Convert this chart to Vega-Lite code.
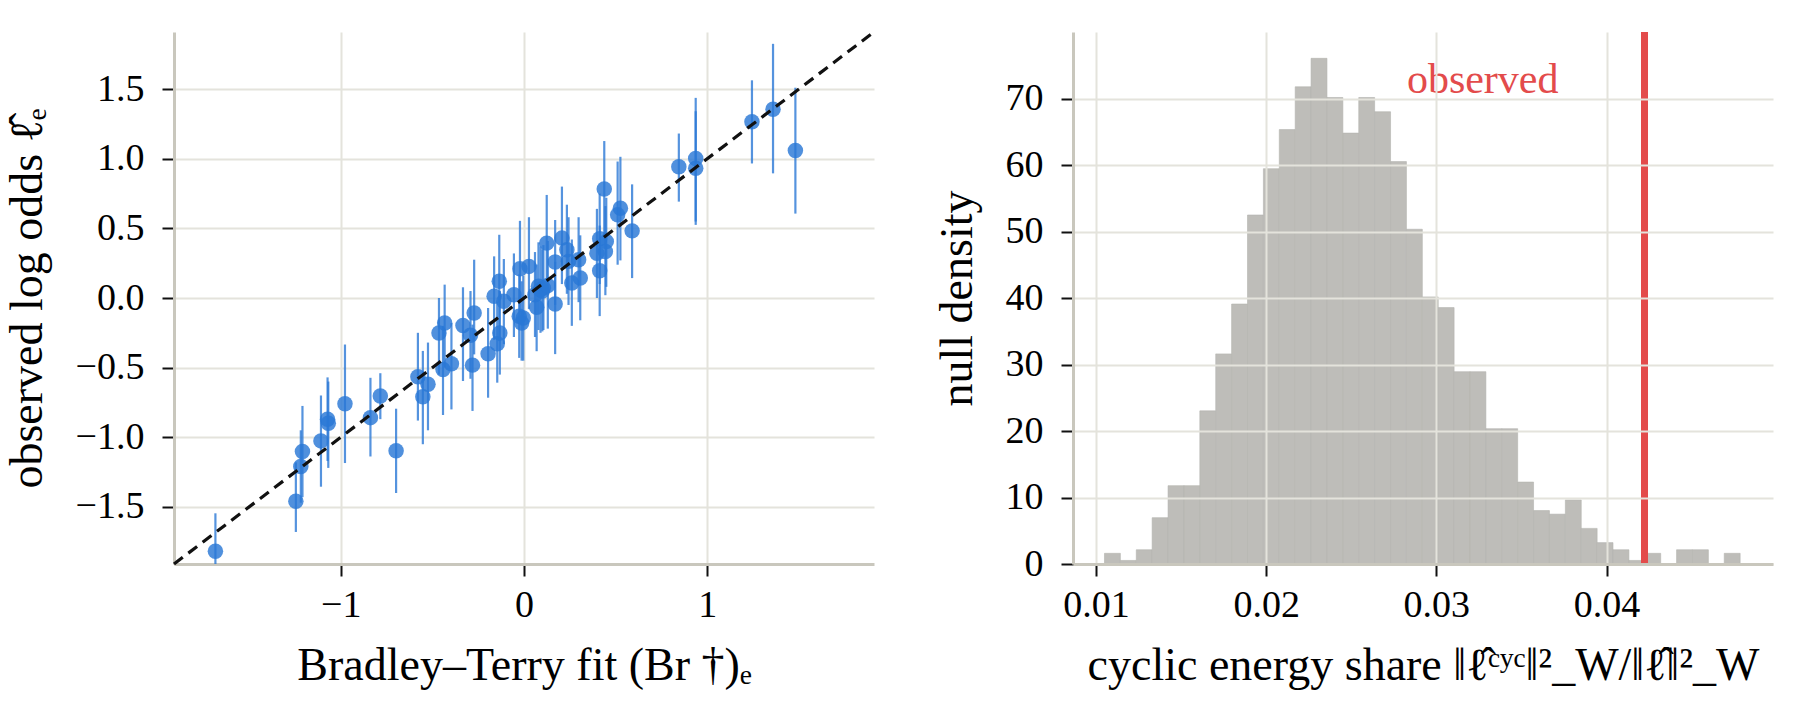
{
  "$schema": "https://vega.github.io/schema/vega-lite/v6.json",
  "background": "white",
  "padding": {"left": 4, "top": 25, "right": 20, "bottom": 10},
  "spacing": 199,
  "bounds": "flush",
  "config": {
    "font": "Liberation Serif",
    "view": {"stroke": null},
    "axis": {
      "domainColor": "#c9c7bd",
      "domainWidth": 3,
      "gridColor": "#e4e3dc",
      "gridWidth": 2,
      "tickColor": "#111111",
      "tickWidth": 2,
      "tickSize": 12,
      "labelFont": "Liberation Serif",
      "labelFontSize": 38,
      "labelColor": "#000000",
      "labelFlush": false,
      "labelOverlap": false,
      "titleFont": "Liberation Serif",
      "titleFontSize": 46,
      "titleFontWeight": "normal",
      "titleColor": "#000000"
    },
    "axisX": {"labelPadding": 10, "titlePadding": 19},
    "axisY": {"labelPadding": 18, "titlePadding": 24}
  },
  "datasets": {
    "edges": [
      {"bt_fit": -1.684, "log_odds": -1.818, "lo": -2.09, "hi": -1.546},
      {"bt_fit": -1.245, "log_odds": -1.46, "lo": -1.68, "hi": -1.18},
      {"bt_fit": -1.218, "log_odds": -1.21, "lo": -1.47, "hi": -0.95},
      {"bt_fit": -1.209, "log_odds": -1.102, "lo": -1.43, "hi": -0.775},
      {"bt_fit": -1.108, "log_odds": -1.026, "lo": -1.355, "hi": -0.7},
      {"bt_fit": -1.072, "log_odds": -0.87, "lo": -1.17, "hi": -0.57},
      {"bt_fit": -1.068, "log_odds": -0.9, "lo": -1.22, "hi": -0.6},
      {"bt_fit": -0.977, "log_odds": -0.759, "lo": -1.185, "hi": -0.334},
      {"bt_fit": -0.838, "log_odds": -0.859, "lo": -1.138, "hi": -0.573},
      {"bt_fit": -0.784, "log_odds": -0.704, "lo": -0.87, "hi": -0.54},
      {"bt_fit": -0.698, "log_odds": -1.097, "lo": -1.4, "hi": -0.795},
      {"bt_fit": -0.579, "log_odds": -0.565, "lo": -0.88, "hi": -0.25},
      {"bt_fit": -0.552, "log_odds": -0.709, "lo": -1.05, "hi": -0.38},
      {"bt_fit": -0.524, "log_odds": -0.62, "lo": -0.95, "hi": -0.32},
      {"bt_fit": -0.464, "log_odds": -0.251, "lo": -0.55, "hi": 0.0},
      {"bt_fit": -0.433, "log_odds": -0.179, "lo": -0.5, "hi": 0.096},
      {"bt_fit": -0.442, "log_odds": -0.513, "lo": -0.84, "hi": -0.2},
      {"bt_fit": -0.396, "log_odds": -0.472, "lo": -0.8, "hi": -0.18},
      {"bt_fit": -0.333, "log_odds": -0.198, "lo": -0.596, "hi": 0.077},
      {"bt_fit": -0.272, "log_odds": -0.107, "lo": -0.405, "hi": 0.275},
      {"bt_fit": -0.292, "log_odds": -0.267, "lo": -0.58, "hi": 0.05},
      {"bt_fit": -0.281, "log_odds": -0.482, "lo": -0.811, "hi": -0.191},
      {"bt_fit": -0.196, "log_odds": -0.401, "lo": -0.716, "hi": -0.072},
      {"bt_fit": -0.163, "log_odds": 0.012, "lo": -0.3, "hi": 0.299},
      {"bt_fit": -0.135, "log_odds": 0.12, "lo": -0.31, "hi": 0.454},
      {"bt_fit": -0.132, "log_odds": -0.251, "lo": -0.55, "hi": 0.05},
      {"bt_fit": -0.146, "log_odds": -0.329, "lo": -0.608, "hi": -0.03},
      {"bt_fit": -0.11, "log_odds": -0.024, "lo": -0.33, "hi": 0.28},
      {"bt_fit": -0.055, "log_odds": 0.024, "lo": -0.28, "hi": 0.32},
      {"bt_fit": -0.026, "log_odds": -0.131, "lo": -0.43, "hi": 0.17},
      {"bt_fit": -0.013, "log_odds": -0.179, "lo": -0.45, "hi": 0.12},
      {"bt_fit": -0.022, "log_odds": 0.21, "lo": -0.1, "hi": 0.554},
      {"bt_fit": 0.027, "log_odds": 0.227, "lo": -0.08, "hi": 0.58},
      {"bt_fit": 0.06, "log_odds": 0.024, "lo": -0.28, "hi": 0.33},
      {"bt_fit": 0.069, "log_odds": -0.067, "lo": -0.382, "hi": 0.24},
      {"bt_fit": 0.106, "log_odds": 0.072, "lo": -0.23, "hi": 0.38},
      {"bt_fit": 0.124, "log_odds": 0.394, "lo": 0.08, "hi": 0.74},
      {"bt_fit": 0.17, "log_odds": -0.043, "lo": -0.403, "hi": 0.26},
      {"bt_fit": 0.17, "log_odds": 0.258, "lo": -0.05, "hi": 0.56},
      {"bt_fit": 0.207, "log_odds": 0.43, "lo": 0.1, "hi": 0.8},
      {"bt_fit": 0.261, "log_odds": 0.107, "lo": -0.2, "hi": 0.42},
      {"bt_fit": 0.243, "log_odds": 0.263, "lo": -0.05, "hi": 0.58},
      {"bt_fit": 0.234, "log_odds": 0.346, "lo": 0.03, "hi": 0.67},
      {"bt_fit": 0.298, "log_odds": 0.275, "lo": -0.03, "hi": 0.58},
      {"bt_fit": 0.307, "log_odds": 0.143, "lo": -0.16, "hi": 0.45},
      {"bt_fit": 0.079, "log_odds": 0.084, "lo": -0.23, "hi": 0.4},
      {"bt_fit": -0.004, "log_odds": -0.143, "lo": -0.45, "hi": 0.16},
      {"bt_fit": 0.09, "log_odds": 0.06, "lo": -0.25, "hi": 0.37},
      {"bt_fit": 0.1, "log_odds": 0.05, "lo": -0.24, "hi": 0.35},
      {"bt_fit": 0.13, "log_odds": 0.09, "lo": -0.22, "hi": 0.41},
      {"bt_fit": 0.438, "log_odds": 0.783, "lo": 0.44, "hi": 1.127},
      {"bt_fit": 0.526, "log_odds": 0.644, "lo": 0.27, "hi": 1.014},
      {"bt_fit": 0.511, "log_odds": 0.597, "lo": 0.239, "hi": 0.98},
      {"bt_fit": 0.59, "log_odds": 0.482, "lo": 0.143, "hi": 0.816},
      {"bt_fit": 0.413, "log_odds": 0.425, "lo": 0.1, "hi": 0.75},
      {"bt_fit": 0.449, "log_odds": 0.406, "lo": 0.08, "hi": 0.72},
      {"bt_fit": 0.398, "log_odds": 0.322, "lo": 0.0, "hi": 0.64},
      {"bt_fit": 0.444, "log_odds": 0.334, "lo": 0.02, "hi": 0.66},
      {"bt_fit": 0.413, "log_odds": 0.196, "lo": -0.13, "hi": 0.52},
      {"bt_fit": 0.845, "log_odds": 0.943, "lo": 0.692, "hi": 1.181},
      {"bt_fit": 0.937, "log_odds": 1.002, "lo": 0.549, "hi": 1.437},
      {"bt_fit": 0.937, "log_odds": 0.931, "lo": 0.525, "hi": 1.341},
      {"bt_fit": 1.244, "log_odds": 1.265, "lo": 0.966, "hi": 1.563},
      {"bt_fit": 1.359, "log_odds": 1.356, "lo": 0.895, "hi": 1.825},
      {"bt_fit": 1.481, "log_odds": 1.059, "lo": 0.606, "hi": 1.51}
    ],
    "diagonal": [
      {"bt_fit": -1.91, "log_odds": -1.91},
      {"bt_fit": 1.91, "log_odds": 1.91}
    ],
    "null_hist": [
      {"bin_start": 0.0105, "bin_end": 0.01143375, "density": 1.607},
      {"bin_start": 0.01143375, "bin_end": 0.0123675, "density": 0.536},
      {"bin_start": 0.0123675, "bin_end": 0.01330125, "density": 2.142},
      {"bin_start": 0.01330125, "bin_end": 0.014235, "density": 6.962},
      {"bin_start": 0.014235, "bin_end": 0.01516875, "density": 11.781},
      {"bin_start": 0.01516875, "bin_end": 0.0161025, "density": 11.781},
      {"bin_start": 0.0161025, "bin_end": 0.01703625, "density": 23.027},
      {"bin_start": 0.01703625, "bin_end": 0.01797, "density": 31.595},
      {"bin_start": 0.01797, "bin_end": 0.01890375, "density": 39.092},
      {"bin_start": 0.01890375, "bin_end": 0.0198375, "density": 52.479},
      {"bin_start": 0.0198375, "bin_end": 0.02077125, "density": 59.441},
      {"bin_start": 0.02077125, "bin_end": 0.021705, "density": 65.331},
      {"bin_start": 0.021705, "bin_end": 0.02263875, "density": 71.757},
      {"bin_start": 0.02263875, "bin_end": 0.0235725, "density": 76.041},
      {"bin_start": 0.0235725, "bin_end": 0.02450625, "density": 70.151},
      {"bin_start": 0.02450625, "bin_end": 0.02544, "density": 64.796},
      {"bin_start": 0.02544, "bin_end": 0.02637375, "density": 70.151},
      {"bin_start": 0.02637375, "bin_end": 0.0273075, "density": 68.009},
      {"bin_start": 0.0273075, "bin_end": 0.02824125, "density": 60.512},
      {"bin_start": 0.02824125, "bin_end": 0.029175, "density": 50.337},
      {"bin_start": 0.029175, "bin_end": 0.03010875, "density": 40.163},
      {"bin_start": 0.03010875, "bin_end": 0.0310425, "density": 38.556},
      {"bin_start": 0.0310425, "bin_end": 0.03197625, "density": 28.917},
      {"bin_start": 0.03197625, "bin_end": 0.03291, "density": 28.917},
      {"bin_start": 0.03291, "bin_end": 0.03384375, "density": 20.349},
      {"bin_start": 0.03384375, "bin_end": 0.0347775, "density": 20.349},
      {"bin_start": 0.0347775, "bin_end": 0.03571125, "density": 12.317},
      {"bin_start": 0.03571125, "bin_end": 0.036645, "density": 8.033},
      {"bin_start": 0.036645, "bin_end": 0.03757875, "density": 7.497},
      {"bin_start": 0.03757875, "bin_end": 0.0385125, "density": 9.639},
      {"bin_start": 0.0385125, "bin_end": 0.03944625, "density": 5.355},
      {"bin_start": 0.03944625, "bin_end": 0.04038, "density": 3.213},
      {"bin_start": 0.04038, "bin_end": 0.04131375, "density": 2.142},
      {"bin_start": 0.04131375, "bin_end": 0.0422475, "density": 0.536},
      {"bin_start": 0.0422475, "bin_end": 0.04318125, "density": 1.607},
      {"bin_start": 0.04318125, "bin_end": 0.044115, "density": 0},
      {"bin_start": 0.044115, "bin_end": 0.04504875, "density": 2.142},
      {"bin_start": 0.04504875, "bin_end": 0.0459825, "density": 2.142},
      {"bin_start": 0.0459825, "bin_end": 0.04691625, "density": 0},
      {"bin_start": 0.04691625, "bin_end": 0.04785, "density": 1.607}
    ],
    "observed": [
      {"share": 0.04223, "label": "observed"}
    ]
  },
  "hconcat": [
    {
      "width": 700,
      "height": 532,
      "layer": [
        {
          "data": {"name": "edges"},
          "mark": {"type": "rule", "color": "#2a78d6", "strokeWidth": 2.2, "opacity": 0.8, "clip": true},
          "encoding": {
            "x": {
              "field": "bt_fit", "type": "quantitative",
              "scale": {"domain": [-1.91, 1.91], "nice": false, "zero": false},
              "axis": {"values": [-1, 0, 1], "format": "d", "grid": true},
              "title": "Bradley–Terry fit (Br †)ₑ"
            },
            "y": {
              "field": "lo", "type": "quantitative",
              "scale": {"domain": [-1.91, 1.91], "nice": false, "zero": false},
              "axis": {"values": [-1.5, -1, -0.5, 0, 0.5, 1, 1.5], "format": ".1f", "grid": true},
              "title": "observed log odds ℓ̂ₑ"
            },
            "y2": {"field": "hi"}
          }
        },
        {
          "data": {"name": "edges"},
          "mark": {"type": "circle", "size": 240, "color": "#2a78d6", "opacity": 0.82},
          "encoding": {
            "x": {"field": "bt_fit", "type": "quantitative", "title": "Bradley–Terry fit (Br †)ₑ"},
            "y": {"field": "log_odds", "type": "quantitative", "title": "observed log odds ℓ̂ₑ"}
          }
        },
        {
          "data": {"name": "diagonal"},
          "mark": {"type": "line", "color": "#111111", "strokeWidth": 3.2, "strokeDash": [11, 7]},
          "encoding": {
            "x": {"field": "bt_fit", "type": "quantitative", "title": "Bradley–Terry fit (Br †)ₑ"},
            "y": {"field": "log_odds", "type": "quantitative", "title": "observed log odds ℓ̂ₑ"}
          }
        }
      ]
    },
    {
      "width": 700,
      "height": 532,
      "layer": [
        {
          "data": {"name": "null_hist"},
          "mark": {"type": "bar", "color": "#bebdb9", "stroke": "#b4b3af", "strokeWidth": 0.6},
          "encoding": {
            "x": {
              "field": "bin_start", "type": "quantitative",
              "scale": {"domain": [0.00865, 0.04978], "nice": false, "zero": false},
              "axis": {"values": [0.01, 0.02, 0.03, 0.04], "format": ".2f", "grid": true, "zindex": 1},
              "title": "cyclic energy share ‖ℓ̂ᶜʸᶜ‖²_W/‖ℓ̂‖²_W"
            },
            "x2": {"field": "bin_end"},
            "y": {
              "field": "density", "type": "quantitative",
              "scale": {"domain": [0, 80], "nice": false},
              "axis": {"values": [0, 10, 20, 30, 40, 50, 60, 70], "format": "d", "grid": true, "zindex": 1},
              "title": "null density"
            },
            "y2": {"datum": 0}
          }
        },
        {
          "data": {"name": "observed"},
          "mark": {"type": "rule", "color": "#e34b4b", "strokeWidth": 7},
          "encoding": {
            "x": {"field": "share", "type": "quantitative", "title": "cyclic energy share ‖ℓ̂ᶜʸᶜ‖²_W/‖ℓ̂‖²_W"}
          }
        },
        {
          "data": {"name": "observed"},
          "mark": {"type": "text", "color": "#e34b4b", "fontSize": 42, "align": "right", "baseline": "middle", "dx": -86},
          "encoding": {
            "x": {"field": "share", "type": "quantitative", "title": "cyclic energy share ‖ℓ̂ᶜʸᶜ‖²_W/‖ℓ̂‖²_W"},
            "y": {"datum": 72.8, "type": "quantitative", "title": "null density"},
            "text": {"field": "label"}
          }
        }
      ]
    }
  ]
}
